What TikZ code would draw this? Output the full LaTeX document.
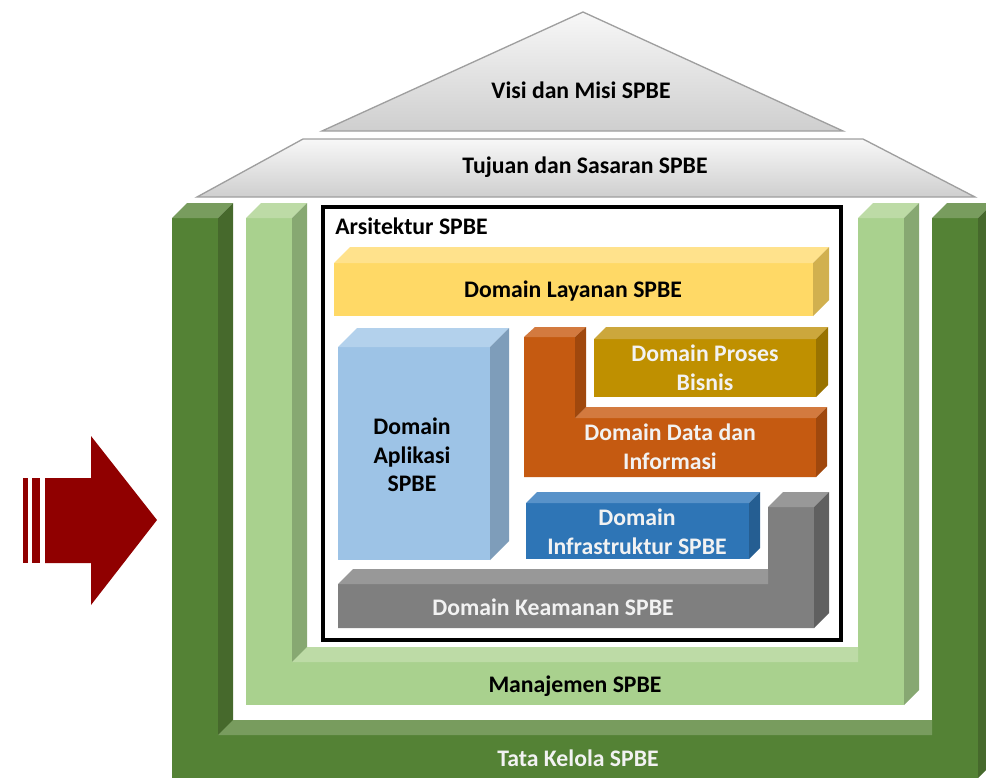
\documentclass[tikz,border=0pt]{standalone}
\usepackage{fontspec}
\setmainfont{Carlito}
\usepackage{tikz}
\usetikzlibrary{positioning}

\definecolor{tkfront}{HTML}{548235}
\definecolor{tktop}{HTML}{789C5E}
\definecolor{tkside}{HTML}{46692C}
\definecolor{mjfront}{HTML}{A9D18E}
\definecolor{mjtop}{HTML}{BDDBA6}
\definecolor{mjside}{HTML}{87A872}
\definecolor{lyfront}{HTML}{FFD966}
\definecolor{lytop}{HTML}{FFE28C}
\definecolor{lyside}{HTML}{D1B04F}
\definecolor{apfront}{HTML}{9DC3E6}
\definecolor{aptop}{HTML}{B3D1EC}
\definecolor{apside}{HTML}{7E9DBA}
\definecolor{prfront}{HTML}{BF9000}
\definecolor{prtop}{HTML}{CCA73C}
\definecolor{prside}{HTML}{997300}
\definecolor{dtfront}{HTML}{C55A11}
\definecolor{dttop}{HTML}{D37A3F}
\definecolor{dtside}{HTML}{A0480D}
\definecolor{iffront}{HTML}{2E75B6}
\definecolor{iftop}{HTML}{5892C9}
\definecolor{ifside}{HTML}{255E92}
\definecolor{kmfront}{HTML}{7F7F7F}
\definecolor{kmtop}{HTML}{989898}
\definecolor{kmside}{HTML}{606060}
\definecolor{arrowred}{HTML}{900000}

% x1,y1,x2,y2,depth,front,top,side
\newcommand{\cuboid}[8]{%
    \fill[#6] (#1,#2) rectangle (#3,#4);
    \fill[#7] (#1,#2) -- (#1+#5,#2-#5) -- (#3+#5,#2-#5) -- (#3,#2) -- cycle;
    \fill[#8] (#3,#2) -- (#3+#5,#2-#5) -- (#3+#5,#4-#5) -- (#3,#4) -- cycle;
}

\begin{document}
\begin{tikzpicture}[x=0.75pt, y=-0.75pt,
    lbl/.style={font=\fontsize{17.8}{21.5}\selectfont\bfseries, align=center, inner sep=0pt},
    wlbl/.style={lbl, text=white!95!black},
    roof/.style={draw=gray!75, line width=1pt, top color=gray!6, bottom color=gray!38}]
    \useasboundingbox (0,0) rectangle (986,778);

    % roof
    \path[roof] (583,12) -- (843,131) -- (322,131) -- cycle;
    \path[roof] (303,139) -- (863,139) -- (975,197) -- (197,197) -- cycle;
    \node (visi) [lbl] at (581,90) {Visi dan Misi SPBE};
    \node (tujuan) [lbl] at (585,167) {Tujuan dan Sasaran SPBE};

    % arrow
    \fill[arrowred] (45,478) -- (91,478) -- (91,436) -- (157,520) -- (91,605) -- (91,563) -- (45,563) -- cycle;
    \fill[arrowred] (23,478) rectangle (28,563);
    \fill[arrowred] (32,478) rectangle (40,563);

    % tata kelola
    \cuboid{172}{218}{218}{778}{15}{tkfront}{tktop}{tkside}
    \cuboid{932}{218}{978}{778}{15}{tkfront}{tktop}{tkside}
    \fill[tkfront] (172,735) rectangle (978,778);
    \fill[tktop] (218,735) -- (233,720) -- (932,720) -- (932,735) -- cycle;
    \node (tatakelola) [wlbl] at (578,758) {Tata Kelola SPBE};

    % manajemen
    \cuboid{246}{218}{292}{705}{15}{mjfront}{mjtop}{mjside}
    \cuboid{858}{218}{904}{705}{15}{mjfront}{mjtop}{mjside}
    \fill[mjfront] (246,662) rectangle (904,705);
    \fill[mjtop] (292,662) -- (307,647) -- (858,647) -- (858,662) -- cycle;
    \node (manajemen) [lbl] at (575,686) {Manajemen SPBE};

    % arsitektur
    \draw[line width=2.5pt, fill=white] (323,207) rectangle (841,640);
    \node (arsitektur) [lbl, anchor=west] at (335,226) {Arsitektur SPBE};

    \cuboid{334}{263}{813}{316}{16}{lyfront}{lytop}{lyside}
    \node (layanan) [lbl] at (573,291) {Domain Layanan SPBE};

    \cuboid{338}{347}{490}{560}{19}{apfront}{aptop}{apside}
    \node (aplikasi) [lbl] at (412,455) {Domain\\Aplikasi\\SPBE};

    \cuboid{594}{339}{816}{397}{12}{prfront}{prtop}{prside}
    \node (proses) [wlbl] at (705,368) {Domain Proses\\Bisnis};

    % data dan informasi
    \fill[dtfront] (524,337) -- (575,337) -- (575,418) -- (816,418) -- (816,477) -- (524,477) -- cycle;
    \fill[dttop] (524,337) -- (535,327) -- (586,327) -- (575,337) -- cycle;
    \fill[dttop] (575,418) -- (586,407) -- (827,407) -- (816,418) -- cycle;
    \fill[dtside] (575,337) -- (586,327) -- (586,407) -- (575,418) -- cycle;
    \fill[dtside] (816,418) -- (827,407) -- (827,466) -- (816,477) -- cycle;
    \node (data) [wlbl] at (670,447) {Domain Data dan\\Informasi};

    \cuboid{526}{503}{749}{559}{11}{iffront}{iftop}{ifside}
    \node (infra) [wlbl] at (637,532) {Domain\\Infrastruktur SPBE};

    % keamanan
    \fill[kmfront] (338,584) -- (768,584) -- (768,507) -- (814,507) -- (814,628) -- (338,628) -- cycle;
    \fill[kmtop] (338,584) -- (353,569) -- (768,569) -- (768,584) -- cycle;
    \fill[kmtop] (768,507) -- (783,492) -- (829,492) -- (814,507) -- cycle;
    \fill[kmside] (814,507) -- (829,492) -- (829,613) -- (814,628) -- cycle;
    \node (keamanan) [wlbl] at (553,607) {Domain Keamanan SPBE};
\end{tikzpicture}
\end{document}
